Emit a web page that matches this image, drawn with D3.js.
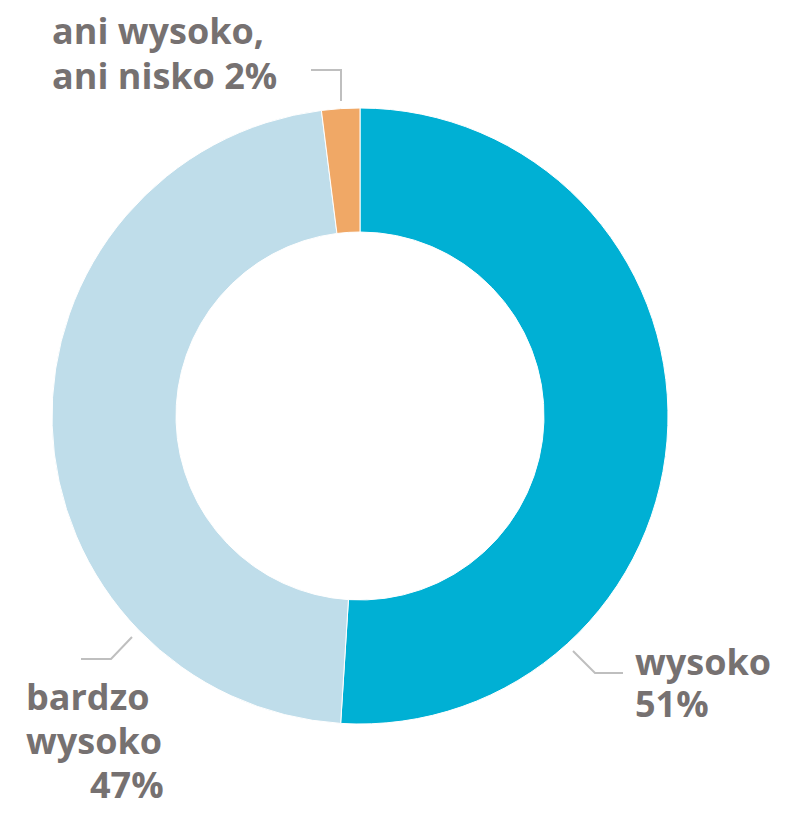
<!DOCTYPE html>
<html>
<head>
<meta charset="utf-8">
<script src="https://cdn.jsdelivr.net/npm/d3@7"></script>
<style>
  body { margin: 0; background: #fff; }
  text { font-family: "Open Sans", Lato, sans-serif; font-weight: 700; fill: #767171; }
</style>
</head>
<body>
<svg width="785" height="815"></svg>
<script>
// Data
var categories = ["wysoko", "bardzo wysoko", "ani wysoko, ani nisko"];
var values = [51, 47, 2];
var colors = ["#00B0D4", "#BFDDEA", "#F0A866"];
var labelLines = [
    ["wysoko", "51%"],
    ["bardzo", "wysoko", "47%"],
    ["ani wysoko,", "ani nisko 2%"]
];

// Layout
var svg = d3.select("svg"),
    cx = 360, cy = 416,
    outerR = 308, innerR = 184;

var labelPos = [
    { x: 635, y: 675, anchor: "start", lines: [0, 42] },
    { x: 26, y: 710, anchor: "start", lines: [0, 44, 88], dx: [0, 0, 64] },
    { x: 52, y: 44, anchor: "start", lines: [0, 45] }
];
var leaders = [
    [[573, 651], [595, 673], [623, 673]],
    [[132, 637], [111, 659], [81, 659]],
    [[311, 70], [341, 70], [341, 101]]
];

var pie = d3.pie().sort(null).value(function (d) { return d; });
var arc = d3.arc().innerRadius(innerR).outerRadius(outerR);

var g = svg.append("g").attr("transform", "translate(" + cx + "," + cy + ")");

g.selectAll("path")
    .data(pie(values))
    .enter()
    .append("path")
    .attr("d", arc)
    .attr("fill", function (d, i) { return colors[i]; })
    .attr("stroke", "#fff")
    .attr("stroke-width", 1);

// leader lines
svg.selectAll("polyline")
    .data(leaders)
    .enter()
    .append("polyline")
    .attr("points", function (d) { return d.map(function (p) { return p.join(","); }).join(" "); })
    .attr("fill", "none")
    .attr("stroke", "#BFBFBF")
    .attr("stroke-width", 2);

// labels
labelLines.forEach(function (lines, i) {
    var p = labelPos[i];
    var t = svg.append("text")
        .attr("text-anchor", p.anchor)
        .style("font-size", "36px");
    lines.forEach(function (line, j) {
        t.append("tspan")
            .attr("x", p.x + (p.dx ? p.dx[j] : 0))
            .attr("y", p.y + p.lines[j])
            .text(line);
    });
});
</script>
</body>
</html>
